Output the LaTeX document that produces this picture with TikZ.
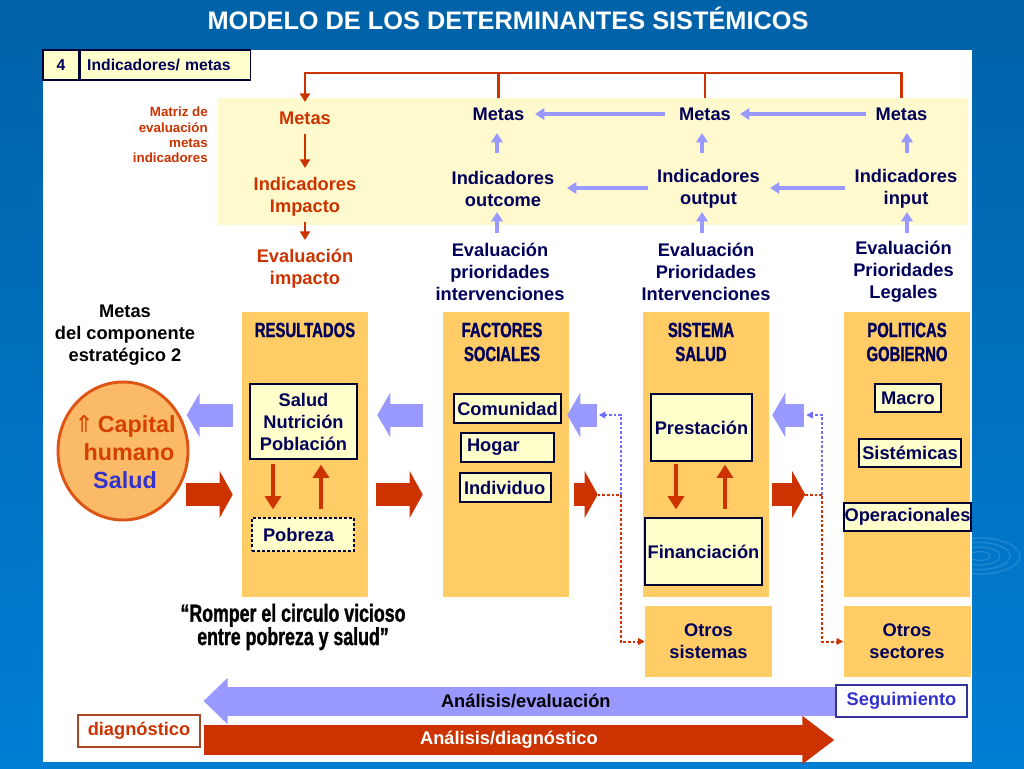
\documentclass[tikz,border=0pt]{standalone}
\usepackage{fontspec}
\setmainfont{Liberation Sans}
\newfontfamily\cond{Liberation Sans}[FakeStretch=0.72,FakeBold=1.2]
\newfontfamily\djv{DejaVu Sans}
\usetikzlibrary{arrows.meta,shapes.geometric}
\definecolor{bgtop}{RGB}{0,98,168}
\definecolor{bgbot}{RGB}{0,126,212}
\definecolor{navy}{RGB}{0,0,90}
\definecolor{boxline}{RGB}{0,0,51}
\definecolor{redt}{RGB}{204,51,0}
\definecolor{capred}{RGB}{214,64,0}
\definecolor{lblue}{RGB}{153,153,255}
\definecolor{dotblue}{RGB}{110,110,255}
\definecolor{colfill}{RGB}{255,204,102}
\definecolor{band}{RGB}{255,250,205}
\definecolor{boxfill}{RGB}{255,255,204}
\definecolor{circfill}{RGB}{250,186,104}
\definecolor{circline}{RGB}{222,84,20}
\definecolor{salud}{RGB}{51,51,204}
\definecolor{segline}{RGB}{51,51,153}
\definecolor{diagline}{RGB}{170,70,40}
\begin{document}
\begin{tikzpicture}[x=0.75pt,y=-0.75pt,
 sz/.style 2 args={minimum width={#1*0.75pt},minimum height={#2*0.75pt},inner sep=0pt},
 main/.style={font=\fontsize{13.7}{16.5}\selectfont\bfseries,align=center,inner sep=0pt},
 navytxt/.style={main,text=navy},
 redtxt/.style={main,text=redt},
 col/.style={fill=colfill,draw=none},
 ibox/.style={main,draw=boxline,line width=0.9pt,fill=boxfill,text=navy},
 hdr/.style={font=\cond\bfseries\fontsize{15.5}{18}\selectfont,text=navy,align=center,inner sep=0pt},
 redline/.style={draw=redt,line width=2.2pt},
 rarr/.style={draw=redt,line width=2.2pt,-{Triangle[length=6.5pt,width=7.5pt]}},
 barr/.style={draw=lblue,line width=2.4pt,-{Triangle[length=7pt,width=8.5pt]}},
 bigblue/.style={draw=lblue,line width=17.25pt,-{Triangle[length=9.75pt,width=33pt]}},
 bigred/.style={draw=redt,line width=17.25pt,-{Triangle[length=9.75pt,width=34.5pt]}},
 bigblueB/.style={draw=lblue,line width=21.75pt,-{Triangle[length=18pt,width=33.75pt]}},
 bigredB/.style={draw=redt,line width=22.5pt,-{Triangle[length=24pt,width=34.5pt]}},
 vred/.style={draw=redt,line width=3pt,-{Triangle[length=10pt,width=12pt]}},
 bdot/.style={draw=dotblue,line width=1.5pt,dash pattern=on 2pt off 1.5pt,-{Triangle[length=5pt,width=5pt]}},
 rdot/.style={draw=redt,line width=1.5pt,dash pattern=on 2pt off 1.5pt,-{Triangle[length=5pt,width=5pt]}},
]
\useasboundingbox (0,0) rectangle (1024,768);
\fill[top color=bgtop,bottom color=bgbot] (0,0) rectangle (1024,768);
% ripple decoration
\begin{scope}
\clip (972,500) rectangle (1024,620);
\foreach \r in {10,20,30,40}
  \draw[white,opacity=0.14,line width=0.9pt] (980,556) ellipse [x radius=\r, y radius=\r*0.45];
\end{scope}
\node[font=\fontsize{19}{22}\selectfont\bfseries,text=white,anchor=base,inner sep=0pt] (title) at (508,29) {MODELO DE LOS DETERMINANTES SISTÉMICOS};
\fill[white] (43,50) rectangle (972,762);

% header tab
\node[ibox,sz={36}{30},font=\fontsize{11.8}{14}\selectfont\bfseries] (h4) at (61,65) {4};
\node[ibox,anchor=west,minimum height={30*0.75pt},text width={156*0.75pt},inner xsep={7*0.75pt},inner ysep=0pt,align=left,font=\fontsize{11.8}{14}\selectfont\bfseries] (hind) at (h4.east) {Indicadores/ metas};

% yellow band
\fill[band] (218,98) rectangle (968,225);

\node[font=\fontsize{10}{11.6}\selectfont\bfseries,text=redt,align=right,anchor=east,inner sep=0pt] (matriz) at (208,135) {Matriz de\\evaluación\\metas\\indicadores};

\node[redtxt] (mR) at (305,118) {Metas};
\node[redtxt] (iR) at (305,197) {Indicadores\\Impacto};
\node[redtxt] (eR) at (305,268.5) {Evaluación\\impacto};

\node[navytxt] (m1) at (498.5,114) {Metas};
\node[navytxt] (m2) at (705,114) {Metas};
\node[navytxt] (m3) at (901.5,114) {Metas};
\node[navytxt] (i1) at (503,189) {Indicadores\\outcome};
\node[navytxt] (i2) at (708.5,189) {Indicadores\\output};
\node[navytxt] (i3) at (906,189) {Indicadores\\input};
\node[navytxt] (e1) at (500,272) {Evaluación\\prioridades\\intervenciones};
\node[navytxt] (e2) at (706,272) {Evaluación\\Prioridades\\Intervenciones};
\node[navytxt] (e3) at (903.5,272) {Evaluación\\Prioridades\\Legales};

% red bracket
\coordinate (bL) at ([shift={(0,-45)}]mR.center);
\coordinate (bR) at ([shift={(0,-41)}]m3.center);
\draw[redline,{Triangle[length=6.5pt,width=7.5pt]}-] ([shift={(0,-16)}]mR.center) -- (bL) -- (bR) -- ([shift={(0,-16)}]m3.center);
\draw[redline] (m1.center |- bL) -- ([shift={(0,-16)}]m1.center);
\draw[redline] (m2.center |- bL) -- ([shift={(0,-16)}]m2.center);

\draw[rarr] ([shift={(0,16)}]mR.center) -- ([shift={(0,-29)}]iR.center);
\draw[rarr] ([shift={(0,25)}]iR.center) -- ([shift={(0,-28.5)}]eR.center);

% blue arrows in band
\draw[barr] ([shift={(-40,0)}]m2.center) -- ([shift={(36.5,0)}]m1.center);
\draw[barr] ([shift={(-35.5,0)}]m3.center) -- ([shift={(35,0)}]m2.center);
\draw[barr] ([shift={(-60.5,-1)}]i2.center) -- ([shift={(64,-1)}]i1.center);
\draw[barr] ([shift={(-61,-1)}]i3.center) -- ([shift={(61.5,-1)}]i2.center);
\draw[barr] ([shift={(-6,-36)}]i1.center) -- ([shift={(-1.5,19)}]m1.center);
\draw[barr] ([shift={(-6.5,-36)}]i2.center) -- ([shift={(-3,19)}]m2.center);
\draw[barr] ([shift={(1,-36)}]i3.center) -- ([shift={(5.5,19)}]m3.center);
\draw[barr] ([shift={(-3,-39)}]e1.center) -- ([shift={(-6,23)}]i1.center);
\draw[barr] ([shift={(-4,-39)}]e2.center) -- ([shift={(-6.5,23)}]i2.center);
\draw[barr] ([shift={(3.5,-39)}]e3.center) -- ([shift={(1,23)}]i3.center);

% left side
\node[main] (mc) at (125,335) {Metas\\del componente\\estratégico 2};
\node[ellipse,draw=circline,line width=2.2pt,fill=circfill,minimum width={130*0.75pt},minimum height={138*0.75pt},inner sep=0pt] (cap) at (123,451) {};
\node[font=\fontsize{17.5}{21}\selectfont\bfseries,align=center,inner sep=0pt] (captxt) at (125,452) {{\djv\mdseries\textcolor{capred}{⇑}}\,\textcolor{capred}{Capital}\\\hspace*{6pt}\textcolor{capred}{humano}\\\textcolor{salud}{Salud}};

% columns
\node[col,sz={126}{285}] (colR) at (305,454.5) {};
\node[col,sz={126}{285}] (colF) at (506,454.5) {};
\node[col,sz={126}{285}] (colS) at (706,454.5) {};
\node[col,sz={126}{285}] (colP) at (906.5,454.5) {};
\node[col,main,text=navy,sz={127}{71}] (os) at (708.5,641.5) {Otros\\sistemas};
\node[col,main,text=navy,sz={127}{71}] (osec) at (907,641.5) {Otros\\sectores};

\node[hdr] (hR) at (305,330) {RESULTADOS};
\node[hdr] (hF) at (502,342) {FACTORES\\SOCIALES};
\node[hdr] (hS) at (701,342) {SISTEMA\\SALUD};
\node[hdr] (hP) at (907,342) {POLITICAS\\GOBIERNO};

% inner boxes
\node[ibox,sz={107}{75}] (snp) at (303.5,421.5) {Salud\\Nutrición\\Población};
\node[ibox,dash pattern=on 2.2pt off 1.6pt,text width={80*0.75pt},inner xsep={11*0.75pt},inner ysep=0pt,minimum height={33*0.75pt},align=left] (pob) at (303,534.5) {Pobreza};
\node[ibox,sz={107}{29}] (com) at (507.5,408.5) {Comunidad};
\node[ibox,text width={81*0.75pt},inner xsep={6*0.75pt},inner ysep=0pt,minimum height={29*0.75pt},align=left] (hog) at (507.5,447.5) {Hogar};
\node[ibox,text width={83*0.75pt},inner xsep={4*0.75pt},inner ysep=0pt,minimum height={29*0.75pt},align=left] (ind) at (505.5,487.5) {Individuo};
\node[ibox,sz={101}{67}] (pres) at (701.5,427.5) {Prestación};
\node[ibox,sz={117}{67}] (fin) at (703.5,551.5) {Financiación};
\node[ibox,sz={66}{28}] (mac) at (908,398) {Macro};
\node[ibox,sz={102}{28}] (sis) at (910,453) {Sistémicas};
\node[ibox,sz={127}{28}] (ope) at (907.5,517) {Operacionales};

% vertical arrows in columns
\draw[vred] ([shift={(-30.5,4)}]snp.south) -- ([shift={(-30,-8)}]pob.north);
\draw[vred] ([shift={(18,-8)}]pob.north) -- ([shift={(17.5,5)}]snp.south);
\draw[vred] ([shift={(-25.5,2)}]pres.south) -- ([shift={(-27.5,-8)}]fin.north);
\draw[vred] ([shift={(21.5,-8)}]fin.north) -- ([shift={(23.5,3)}]pres.south);

% big block arrows
\draw[bigblue] ([shift={(-9,-39.5)}]colR.west) -- ([shift={(-55,-39.5)}]colR.west);
\draw[bigblue] ([shift={(-20,-39.5)}]colF.west) -- ([shift={(9,-39.5)}]colR.east);
\draw[bigblue] ([shift={(-46,-39.5)}]colS.west) -- ([shift={(-2,-39.5)}]colF.east);
\draw[bigblue] ([shift={(-39,-39.5)}]colP.west) -- ([shift={(3,-39.5)}]colS.east);

\draw[bigred] ([shift={(-56,40)}]colR.west) -- ([shift={(-9,40)}]colR.west);
\draw[bigred] ([shift={(8,40)}]colR.east) -- ([shift={(-20,40)}]colF.west);
\coordinate (t3) at ([shift={(-45,40)}]colS.west);
\coordinate (t4) at ([shift={(-38,40)}]colP.west);
\draw[bigred] ([shift={(5,40)}]colF.east) -- (t3);
\draw[bigred] ([shift={(3,40)}]colS.east) -- (t4);

% dotted links
\coordinate (j3) at ([shift={(23,0)}]t3);
\coordinate (j4) at ([shift={(17,0)}]t4);
\draw[bdot] (j3) |- ([shift={(-44,-39.5)}]colS.west);
\draw[bdot] (j4) |- ([shift={(-37,-39.5)}]colP.west);
\draw[rdot] (t3) -- (j3) |- (os.west);
\draw[rdot] (t4) -- (j4) |- (osec.west);

% quote
\node[font=\cond\bfseries\fontsize{18.5}{17.5}\selectfont,align=center,inner sep=0pt] (quote) at (293,627) {“Romper el circulo vicioso\\entre pobreza y salud”};

% bottom
\node[draw=segline,fill=white,line width=0.9pt,sz={131}{32},main,text=salud] (seg) at (901.5,701) {Seguimiento};
\node[draw=diagline,fill=white,line width=0.9pt,sz={122}{32},main,text=redt] (diag) at (139,731) {diagnóstico};
\coordinate (btip) at ([xshift=2.25pt]diag.east);
\draw[bigblueB] (seg.west) -- (btip |- seg.west) node[pos=0.49,main,text=black] {Análisis/evaluación};
\draw[bigredB] ([shift={(3,9)}]diag.east) -- ([shift={(-1,39)}]seg.west) node[pos=0.484,main,text=white] {Análisis/diagnóstico};
\end{tikzpicture}
\end{document}
